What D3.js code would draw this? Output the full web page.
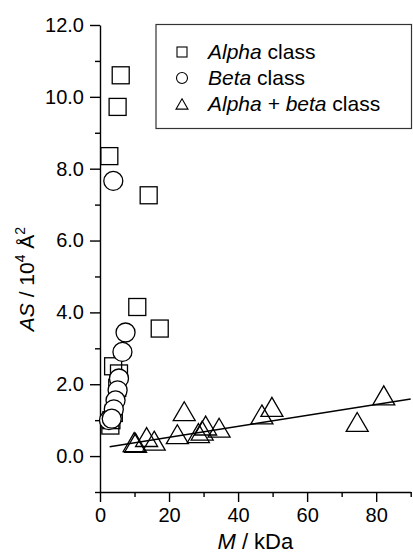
<!DOCTYPE html>
<html lang="en">
<head>
<meta charset="UTF-8">
<title>AS vs M</title>
<script src="https://d3js.org/d3.v7.min.js"></script>
<style>
  body { margin: 0; background: #fff; }
  svg { font-family: "Liberation Sans", Arial, sans-serif; }
</style>
</head>
<body>
<div id="chart"></div>
<script>
// Alpha class (squares)
const alphaM  = [6.0, 5.1, 2.7, 14.1, 10.8, 17.3, 3.8, 5.5, 5.0, 4.0, 3.0, 3.3];
const alphaAS = [10.6, 9.72, 8.35, 7.26, 4.15, 3.55, 2.5, 2.3, 1.9, 1.2, 0.85, 1.0];

// Beta class (circles)
const betaM  = [3.85, 7.4, 6.5, 5.5, 5.1, 4.5, 4.0, 2.6, 3.4];
const betaAS = [7.66, 3.44, 2.9, 2.16, 1.83, 1.55, 1.3, 1.0, 1.04];

// Alpha + beta class (triangles)
const abM  = [9.9, 10.3, 13.5, 15.7, 22.4, 24.4, 28.5, 29.6, 30.6, 34.5, 46.9, 49.8, 74.5, 82.2];
const abAS = [0.39, 0.37, 0.53, 0.43, 0.61, 1.25, 0.64, 0.71, 0.85, 0.79, 1.16, 1.37, 0.95, 1.69];

// fitted line end points
const fitM  = [2.8, 90];
const fitAS = [0.26, 1.59];

const majorY = [0, 2, 4, 6, 8, 10, 12];
const minorY = [-1, 1, 3, 5, 7, 9, 11];
const majorX = [0, 20, 40, 60, 80];
const minorX = [10, 30, 50, 70, 90];

const legendItems = [
  { sym: "square",   it: "Alpha", rest: " class" },
  { sym: "circle",   it: "Beta", rest: " class" },
  { sym: "triangle", it: "Alpha + beta", rest: " class" }
];

const W = 413, H = 556;
const plotL = 100, plotR = 410.7, plotT = 25, plotB = 492;

const svg = d3.select("#chart").append("svg")
  .attr("width", W).attr("height", H);

const x = d3.scaleLinear().domain([0, 90]).range([plotL, plotR]);
const y = d3.scaleLinear().domain([-1, 12]).range([plotB, plotT]);

// axes
const yAxis = svg.append("g").attr("transform", `translate(${plotL},0)`)
  .call(d3.axisLeft(y).tickValues(majorY).tickSize(10).tickSizeOuter(0)
    .tickFormat(d => d.toFixed(1)));
svg.append("g").attr("transform", `translate(${plotL},0)`)
  .call(d3.axisLeft(y).tickValues(minorY).tickSize(5).tickSizeOuter(0).tickFormat(""))
  .select(".domain").remove();

const xAxis = svg.append("g").attr("transform", `translate(0,${plotB})`)
  .call(d3.axisBottom(x).tickValues(majorX).tickSize(10).tickSizeOuter(0));
svg.append("g").attr("transform", `translate(0,${plotB})`)
  .call(d3.axisBottom(x).tickValues(minorX).tickSize(5).tickSizeOuter(0).tickFormat(""))
  .select(".domain").remove();

svg.selectAll(".domain, .tick line").attr("stroke", "#000").attr("stroke-width", 1.4);
yAxis.selectAll(".tick text").attr("font-size", 20).attr("x", -16).attr("fill", "#000")
  .attr("font-family", "Liberation Sans, Arial, sans-serif");
xAxis.selectAll(".tick text").attr("font-size", 20).attr("y", 16).attr("fill", "#000")
  .attr("font-family", "Liberation Sans, Arial, sans-serif");

// fitted line
svg.append("line")
  .attr("x1", x(fitM[0])).attr("y1", y(fitAS[0]))
  .attr("x2", x(fitM[1])).attr("y2", y(fitAS[1]))
  .attr("stroke", "#000").attr("stroke-width", 1.4);

const sq = 17, cr = 9.5, tw = 22;
const triPath = (cx, cy, w) => {
  const h = w * 0.86;
  return `M${cx},${cy - h / 2}L${cx + w / 2},${cy + h / 2}L${cx - w / 2},${cy + h / 2}Z`;
};

// squares
svg.append("g").selectAll("rect").data(d3.range(alphaM.length)).join("rect")
  .attr("x", i => x(alphaM[i]) - sq / 2).attr("y", i => y(alphaAS[i]) - sq / 2)
  .attr("width", sq).attr("height", sq)
  .attr("fill", "none").attr("stroke", "#000").attr("stroke-width", 1.3);

// circles
svg.append("g").selectAll("circle").data(d3.range(betaM.length)).join("circle")
  .attr("cx", i => x(betaM[i])).attr("cy", i => y(betaAS[i])).attr("r", cr)
  .attr("fill", "#fff").attr("stroke", "#000").attr("stroke-width", 1.3);

// triangles
svg.append("g").selectAll("path").data(d3.range(abM.length)).join("path")
  .attr("d", i => triPath(x(abM[i]), y(abAS[i]), tw))
  .attr("fill", "none").attr("stroke", "#000").attr("stroke-width", 1.3);

// legend
svg.append("rect").attr("x", 156).attr("y", 24.5).attr("width", 255.5).attr("height", 104)
  .attr("fill", "#fff").attr("stroke", "#333").attr("stroke-width", 1.2);

const lg = svg.append("g");
legendItems.forEach((d, i) => {
  const cy = 52 + i * 26;
  const cx = 182;
  if (d.sym === "square") {
    lg.append("rect").attr("x", cx - 5).attr("y", cy - 5).attr("width", 10).attr("height", 10)
      .attr("fill", "none").attr("stroke", "#000").attr("stroke-width", 1.1);
  } else if (d.sym === "circle") {
    lg.append("circle").attr("cx", cx).attr("cy", cy).attr("r", 5.5)
      .attr("fill", "none").attr("stroke", "#000").attr("stroke-width", 1.1);
  } else {
    lg.append("path").attr("d", triPath(cx, cy, 12))
      .attr("fill", "none").attr("stroke", "#000").attr("stroke-width", 1.1);
  }
  const t = lg.append("text").attr("x", 208).attr("y", cy + 7).attr("font-size", 21);
  t.append("tspan").attr("font-style", "italic").text(d.it);
  t.append("tspan").text(d.rest);
});

// axis titles
const xt = svg.append("text").attr("x", (plotL + plotR) / 2).attr("y", 549)
  .attr("text-anchor", "middle").attr("font-size", 22);
xt.append("tspan").attr("font-style", "italic").text("M");
xt.append("tspan").text(" / kDa");

const yt = svg.append("text").attr("transform", "translate(34,279) rotate(-90)")
  .attr("text-anchor", "middle").attr("font-size", 21);
yt.append("tspan").attr("font-style", "italic").text("AS");
yt.append("tspan").text(" / 10");
yt.append("tspan").attr("font-size", 14).attr("dy", -9).text("4");
yt.append("tspan").attr("dy", 9).text(" Å");
yt.append("tspan").attr("font-size", 14).attr("dy", -9).text("2");
</script>
</body>
</html>
